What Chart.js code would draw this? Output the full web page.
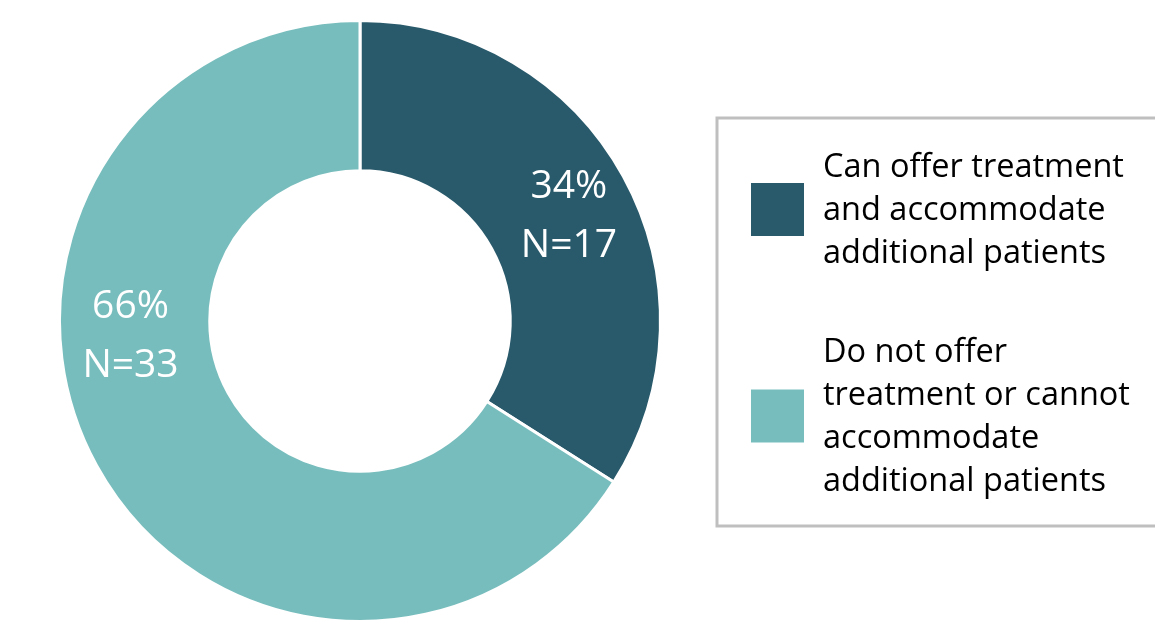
<!DOCTYPE html>
<html>
<head>
<meta charset="utf-8">
<script src="https://cdn.jsdelivr.net/npm/chart.js@4"></script>
<style>
  html, body { margin: 0; padding: 0; background: #fff; }
  #wrap { width: 1155px; height: 623px; position: relative; }
</style>
</head>
<body>
<div id="wrap"><canvas id="chart" width="1155" height="623"></canvas></div>
<script>
// categories, split into the lines used in the legend
const categories = [
  ["Can offer treatment", "and accommodate", "additional patients"],
  ["Do not offer", "treatment or cannot", "accommodate", "additional patients"]
];
const percents = [34, 66];
const counts = [17, 33];
const colors = ["#295A6B", "#78BDBD"];

const FONT = "'Open Sans', sans-serif";

// white labels inside each slice
const sliceLabels = {
  id: "sliceLabels",
  afterDatasetsDraw(chart) {
    const ctx = chart.ctx;
    const arcs = chart.getDatasetMeta(0).data;
    const frac = [0.515, 0.607]; // where along the arc the label sits
    const rad = [0.56, 0.53];    // how far out between inner and outer edge
    ctx.save();
    ctx.fillStyle = "#fff";
    ctx.font = "39px " + FONT;
    ctx.textAlign = "center";
    ctx.textBaseline = "middle";
    arcs.forEach((arc, i) => {
      const p = arc.getProps(["x", "y", "startAngle", "endAngle", "innerRadius", "outerRadius"]);
      const a = p.startAngle + (p.endAngle - p.startAngle) * frac[i];
      const r = p.innerRadius + (p.outerRadius - p.innerRadius) * rad[i];
      const x = p.x + Math.cos(a) * r;
      const y = p.y + Math.sin(a) * r;
      ctx.fillText(percents[i] + "%", x, y - 28);
      ctx.fillText("N=" + counts[i], x, y + 31);
    });
    ctx.restore();
  }
};

// boxed legend on the right
const boxLegend = {
  id: "boxLegend",
  afterDraw(chart) {
    const ctx = chart.ctx;
    ctx.save();
    ctx.strokeStyle = "#BFBFBF";
    ctx.lineWidth = 3;
    ctx.strokeRect(717, 118, 460, 408);

    ctx.font = "32.5px " + FONT;
    ctx.fillStyle = "#000";
    ctx.textAlign = "left";
    ctx.textBaseline = "alphabetic";
    const lineH = 43;
    let base = 177;
    categories.forEach((lines, i) => {
      lines.forEach((t, j) => ctx.fillText(t, 823, base + j * lineH));
      const mid = base + (lines.length - 1) * lineH / 2 - 11;
      ctx.fillStyle = colors[i];
      ctx.fillRect(751, mid - 26, 53, 53);
      ctx.fillStyle = "#000";
      base += (lines.length - 1) * lineH + 99;
    });
    ctx.restore();
  }
};

new Chart(document.getElementById("chart"), {
  type: "doughnut",
  data: {
    labels: categories.map(l => l.join(" ")),
    datasets: [{
      data: percents,
      backgroundColor: colors,
      borderColor: "#fff",
      borderWidth: 3
    }]
  },
  options: {
    responsive: false,
    animation: false,
    cutout: "50%",
    layout: { padding: { left: 58, right: 493, top: 19, bottom: 0 } },
    plugins: {
      legend: { display: false },
      tooltip: { enabled: false }
    }
  },
  plugins: [sliceLabels, boxLegend]
});
</script>
</body>
</html>
